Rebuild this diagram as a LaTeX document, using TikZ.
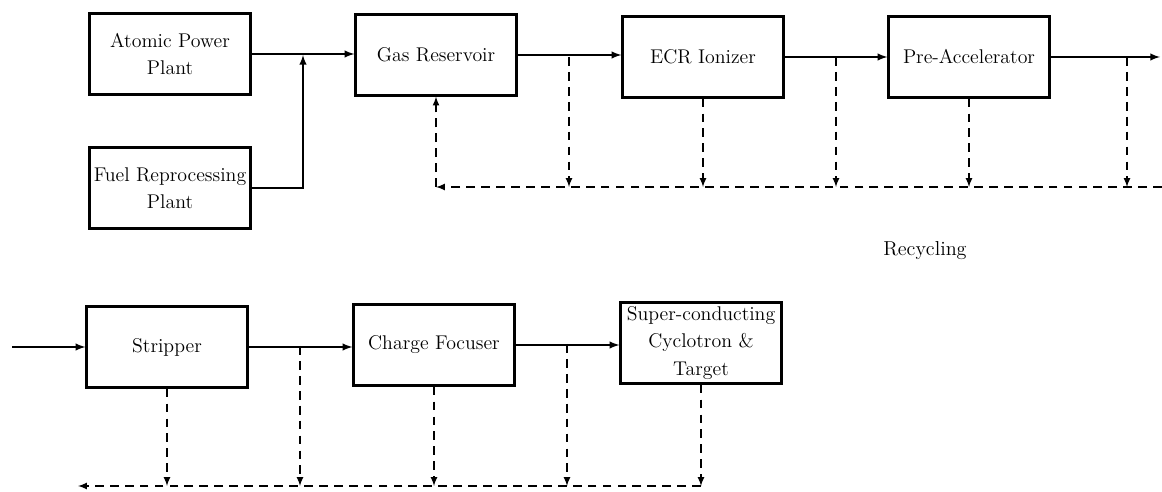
\documentclass[tikz,border=0pt]{standalone}
\begin{document}
\begin{tikzpicture}[x=0.02cm,y=-0.02cm,>=latex,
  unit/.style={draw,line width=1.3pt,minimum width=3.22cm,minimum height=1.62cm,
    align=center,inner sep=1pt,font=\fontsize{11.3}{15.5}\selectfont},
  flow/.style={->,line width=0.9pt},
  recyc/.style={->,line width=0.75pt,dash pattern=on 5pt off 3.5pt}]
\useasboundingbox (0,0) rectangle (1162,492);

% first line of the plant
\node[unit] (app) at (170,54) {Atomic Power\\Plant};
\node[unit] (frp) at (170,188) {Fuel Reprocessing\\Plant};
\node[unit] (gas) at (436,55) {Gas Reservoir};
\node[unit] (ecr) at (703,57) {ECR Ionizer};
\node[unit] (pre) at (969,57) {Pre-Accelerator};
\coordinate (join) at (303,55);
\coordinate (out) at (1160,57);
\draw[flow] (app.east) -- (app.east -| gas.west);
\draw[flow] (frp.east) -| (join);
\draw[flow] (gas.east) -- (gas.east -| ecr.west);
\draw[flow] (ecr.east) -- (ecr.east -| pre.west);
\draw[flow] (pre.east) -- (out);

% recycling back to the gas reservoir
\foreach \x [count=\i] in {569,836,1127} \coordinate (tap\i) at (\x,57);
\coordinate (rtop) at (1162,187);
\coordinate (rgas) at (436,187);
\draw[recyc] (rtop) -- (rgas);
\draw[recyc] (rgas) -- (gas.south);
\foreach \n in {tap1,ecr.south,tap2,pre.south,tap3} \draw[recyc] (\n) -- (\n |- rtop);

\node[font=\fontsize{11.5}{14}\selectfont] (recy) at (925,251) {Recycling};

% second line
\node[unit] (strip) at (167,347) {Stripper};
\node[unit] (cf) at (434,345) {Charge Focuser};
\node[unit] (sc) at (701,343) {Super-conducting\\Cyclotron \&\\Target};
\coordinate (in) at (12,347);
\draw[flow] (in) -- (strip.west);
\draw[flow] (strip.east) -- (strip.east -| cf.west);
\draw[flow] (cf.east) -- (cf.east -| sc.west);

\coordinate (btap1) at (300,346);
\coordinate (btap2) at (567,344);
\coordinate (rbot) at (703,486);
\coordinate (rend) at (78,486);
\draw[recyc] (sc.south) -- (sc.south |- rbot);
\draw[recyc] (sc.south |- rbot) -- (rend);
\foreach \n in {strip.south,btap1,cf.south,btap2} \draw[recyc] (\n) -- (\n |- rbot);
\end{tikzpicture}
\end{document}
